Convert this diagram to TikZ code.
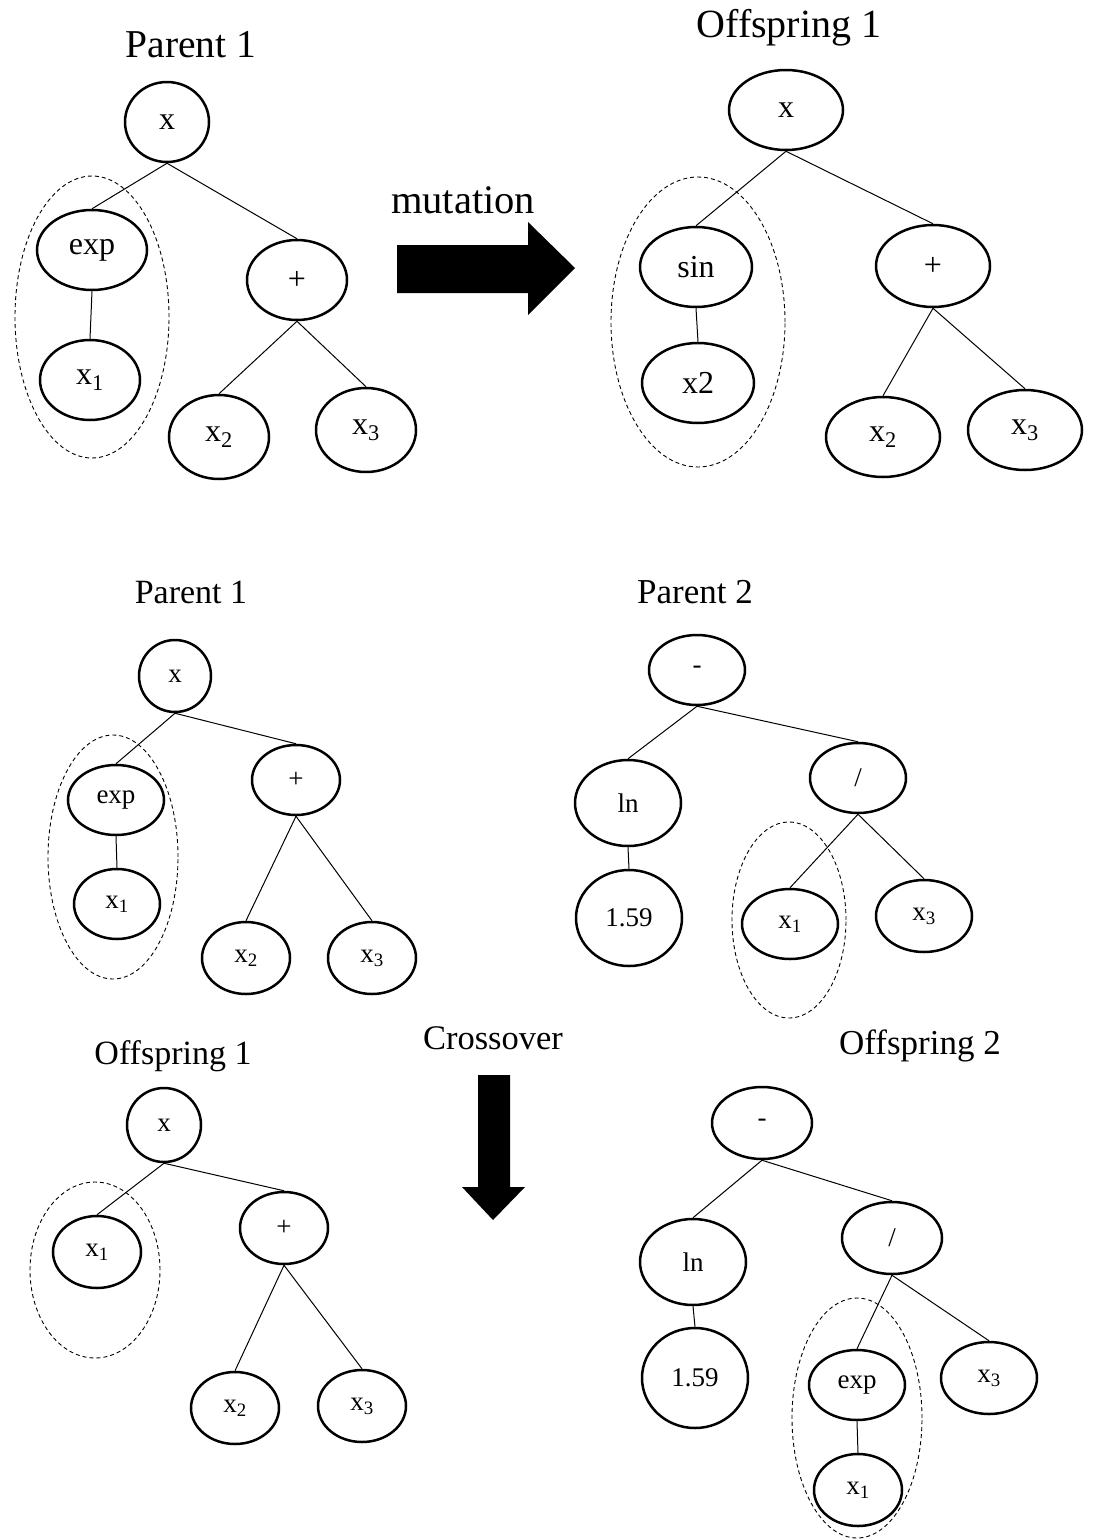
\documentclass[tikz,border=0pt]{standalone}
\usepackage{fontspec}
\setmainfont{Liberation Serif}
\usetikzlibrary{shapes.geometric}
\begin{document}
\begin{tikzpicture}[x=1pt,y=-1pt,
  tn/.style={draw, ellipse, line width=2.5pt, inner sep=0pt},
  sz/.style 2 args={minimum width=#1pt, minimum height=#2pt},
  big/.style={font=\fontsize{32}{34}\selectfont},
  small/.style={font=\fontsize{27}{30}\selectfont},
  edge/.style={line width=1pt},
  sel/.style={draw, ellipse, line width=0.9pt, dash pattern=on 4pt off 3pt, inner sep=0pt},
  ttl/.style={font=\fontsize{#1}{#1}\selectfont}]
\useasboundingbox (0,0) rectangle (1093,1540);

% ---------- mutation: parent ----------
\node[ttl=39.5] (tP1) at (191,45) {Parent 1};
\node[sel, sz={154}{282}] (mA) at (92,317) {};
\node[tn, big, sz={84}{80}] (a0) at (167,122) {x};
\node[tn, big, sz={110}{80}] (a1) at (92,250) {exp};
\node[tn, big, sz={100}{80}] (a2) at (90,380) {x\textsubscript{1}};
\node[tn, big, sz={100}{80}] (a3) at (297,280) {+};
\node[tn, big, sz={100}{84}] (a4) at (219,437) {x\textsubscript{2}};
\node[tn, big, sz={100}{84}] (a5) at (366,430) {x\textsubscript{3}};
\draw[edge] (a0.south) -- (a1.north);
\draw[edge] (a0.south) -- (a3.north);
\draw[edge] (a1.south) -- (a2.north);
\draw[edge] (a3.south) -- (a4.north);
\draw[edge] (a3.south) -- (a5.north);

% mutation arrow
\node[ttl=40.5] (tMut) at (463,200) {mutation};
\fill (397,245) -- (528,245) -- (528,222) -- (575,268) -- (528,315) -- (528,293) -- (397,293) -- cycle;

% ---------- mutation: offspring ----------
\node[ttl=40] (tO1) at (789,28) {Offspring 1};
\node[sel, sz={174}{290}] (mB) at (698,322) {};
\node[tn, big, sz={114}{80}] (b0) at (786,110) {x};
\node[tn, big, sz={112}{80}] (b1) at (696,267) {sin};
\node[tn, big, sz={112}{80}] (b2) at (698,383) {x2};
\node[tn, big, sz={114}{82}] (b3) at (933,266) {+};
\node[tn, big, sz={114}{80}] (b4) at (883,437) {x\textsubscript{2}};
\node[tn, big, sz={114}{80}] (b5) at (1025,430) {x\textsubscript{3}};
\draw[edge] (b0.south) -- (b1.north);
\draw[edge] (b0.south) -- (b3.north);
\draw[edge] (b1.south) -- (b2.north);
\draw[edge] (b3.south) -- (b4.north);
\draw[edge] (b3.south) -- (b5.north);

% ---------- crossover: parent 1 ----------
\node[ttl=34] (tP1b) at (191,592) {Parent 1};
\node[sel, sz={130}{244}] (mC) at (113,857) {};
\node[tn, small, sz={72}{72}] (c0) at (175,676) {x};
\node[tn, small, sz={96}{70}] (c1) at (116,800) {exp};
\node[tn, small, sz={86}{70}] (c2) at (117,904) {x\textsubscript{1}};
\node[tn, small, sz={88}{70}] (c3) at (296,780) {+};
\node[tn, small, sz={88}{72}] (c4) at (246,958) {x\textsubscript{2}};
\node[tn, small, sz={88}{72}] (c5) at (372,958) {x\textsubscript{3}};
\draw[edge] (c0.south) -- (c1.north);
\draw[edge] (c0.south) -- (c3.north);
\draw[edge] (c1.south) -- (c2.north);
\draw[edge] (c3.south) -- (c4.north);
\draw[edge] (c3.south) -- (c5.north);

% ---------- crossover: parent 2 ----------
\node[ttl=35] (tP2) at (695,592) {Parent 2};
\node[sel, sz={114}{196}] (mD) at (789,920) {};
\node[tn, small, sz={96}{70}] (d0) at (697,670) {-};
\node[tn, small, sz={106}{86}] (d1) at (628,803) {ln};
\node[tn, small, sz={96}{70}] (d2) at (858,778) {/};
\node[tn, small, sz={106}{96}] (d3) at (629,918) {1.59};
\node[tn, small, sz={96}{70}] (d4) at (790,924) {x\textsubscript{1}};
\node[tn, small, sz={96}{72}] (d5) at (924,916) {x\textsubscript{3}};
\draw[edge] (d0.south) -- (d1.north);
\draw[edge] (d0.south) -- (d2.north);
\draw[edge] (d1.south) -- (d3.north);
\draw[edge] (d2.south) -- (d4.north);
\draw[edge] (d2.south) -- (d5.north);

% crossover arrow
\node[ttl=34.5] (tCross) at (493,1038) {Crossover};
\fill (478,1075) -- (510,1075) -- (510,1187) -- (525,1187) -- (493,1220) -- (462,1187) -- (478,1187) -- cycle;

% ---------- crossover: offspring 1 ----------
\node[ttl=34] (tO1b) at (173,1056) {Offspring 1};
\node[sel, sz={130}{176}] (mE) at (95,1270) {};
\node[tn, small, sz={74}{74}] (e0) at (164,1125) {x};
\node[tn, small, sz={88}{72}] (e1) at (97,1252) {x\textsubscript{1}};
\node[tn, small, sz={88}{72}] (e2) at (284,1228) {+};
\node[tn, small, sz={88}{72}] (e3) at (235,1408) {x\textsubscript{2}};
\node[tn, small, sz={88}{72}] (e4) at (362,1406) {x\textsubscript{3}};
\draw[edge] (e0.south) -- (e1.north);
\draw[edge] (e0.south) -- (e2.north);
\draw[edge] (e2.south) -- (e3.north);
\draw[edge] (e2.south) -- (e4.north);

% ---------- crossover: offspring 2 ----------
\node[ttl=35] (tO2) at (920,1046) {Offspring 2};
\node[sel, sz={130}{240}] (mF) at (857,1418) {};
\node[tn, small, sz={100}{72}] (f0) at (762,1123) {-};
\node[tn, small, sz={106}{86}] (f1) at (693,1262) {ln};
\node[tn, small, sz={100}{72}] (f2) at (892,1238) {/};
\node[tn, small, sz={106}{100}] (f3) at (695,1378) {1.59};
\node[tn, small, sz={96}{70}] (f4) at (857,1385) {exp};
\node[tn, small, sz={96}{72}] (f5) at (989,1378) {x\textsubscript{3}};
\node[tn, small, sz={88}{72}] (f6) at (858,1490) {x\textsubscript{1}};
\draw[edge] (f0.south) -- (f1.north);
\draw[edge] (f0.south) -- (f2.north);
\draw[edge] (f1.south) -- (f3.north);
\draw[edge] (f2.south) -- (f4.north);
\draw[edge] (f2.south) -- (f5.north);
\draw[edge] (f4.south) -- (f6.north);
\end{tikzpicture}
\end{document}
